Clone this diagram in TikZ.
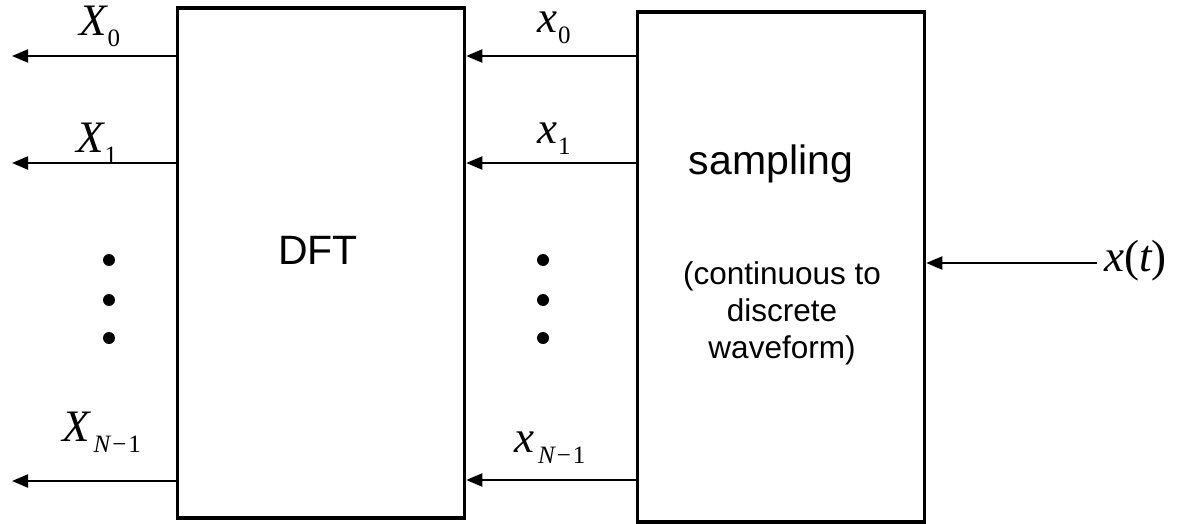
\documentclass[tikz,border=0pt]{standalone}
\usepackage{fontspec}
\setmainfont{Liberation Serif}
\setsansfont{Liberation Sans}
\usetikzlibrary{arrows.meta}
\newcommand{\lowsub}[1]{\kern1pt\raisebox{-11pt}{\fontsize{25}{25}\selectfont\upshape #1}}
\begin{document}
\begin{tikzpicture}[x=1pt, y=-1pt,
        box/.style={rectangle, draw, line width=3.5pt, minimum width=287pt, minimum height=510pt, inner sep=0pt},
        sig/.style={anchor=base west, inner sep=0pt, font=\fontsize{45}{45}\selectfont\itshape},
        txt/.style={font=\sffamily\fontsize{41}{41}\selectfont},
        dot/.style={circle, fill, inner sep=0pt, minimum size=12pt},
        arrow/.style={-{Triangle[length=16pt,width=13pt]}, line width=2pt}
    ]
        \useasboundingbox (0,0) rectangle (1178,524);

% Blocks
        \node[box] (dft) at (321,263) {};
        \node[box] (samp) at (781,267) {};
        \node[txt] (dftlbl) at (318,250) {DFT};
        \node[txt, anchor=base] (samplbl) at (771,175) {sampling};
        \node[font=\sffamily\fontsize{31.5}{37}\selectfont, align=center] (conv) at (782,313) {(continuous to\\discrete\\waveform)};

% Free ends
        \coordinate (out0) at (12,56);
        \coordinate (out1) at (12,163);
        \coordinate (outn) at (12,481);
        \coordinate (xin) at (1097,263);

% Arrows
        \draw[arrow] (dft.west |- out0) -- (out0);
        \draw[arrow] (dft.west |- out1) -- (out1);
        \draw[arrow] (dft.west |- outn) -- (outn);
        \draw[arrow] (samp.west |- out0) -- (dft.east |- out0);
        \draw[arrow] (samp.west |- out1) -- (dft.east |- out1);
        \draw[arrow] (samp.west |- 0,480) -- (dft.east |- 0,480);
        \draw[arrow] (xin) -- (samp.east |- xin);

% Signal labels
        \node[sig] (X0) at (79,36) {X\lowsub{0}};
        \node[sig] (X1) at (76,153) {X\lowsub{1}};
        \node[sig] (Xn) at (62,441) {X\lowsub{\kern3pt\itshape N\upshape\kern2pt−\kern2pt1}};
        \node[sig] (x0) at (537,33) {x\lowsub{0}};
        \node[sig] (x1) at (537,143) {x\lowsub{1}};
        \node[sig] (xn) at (514,452) {x\lowsub{\kern3pt\itshape N\upshape\kern2pt−\kern2pt1}};
        \node[sig] (xt) at (1104,271) {x\upshape(\itshape t\upshape)};

% Dots
        \foreach \y [count=\i] in {260,300,338} {
            \node[dot] (ldot\i) at (109,\y) {};
            \node[dot] (mdot\i) at (543,\y) {};
        }

    \end{tikzpicture}
\end{document}
